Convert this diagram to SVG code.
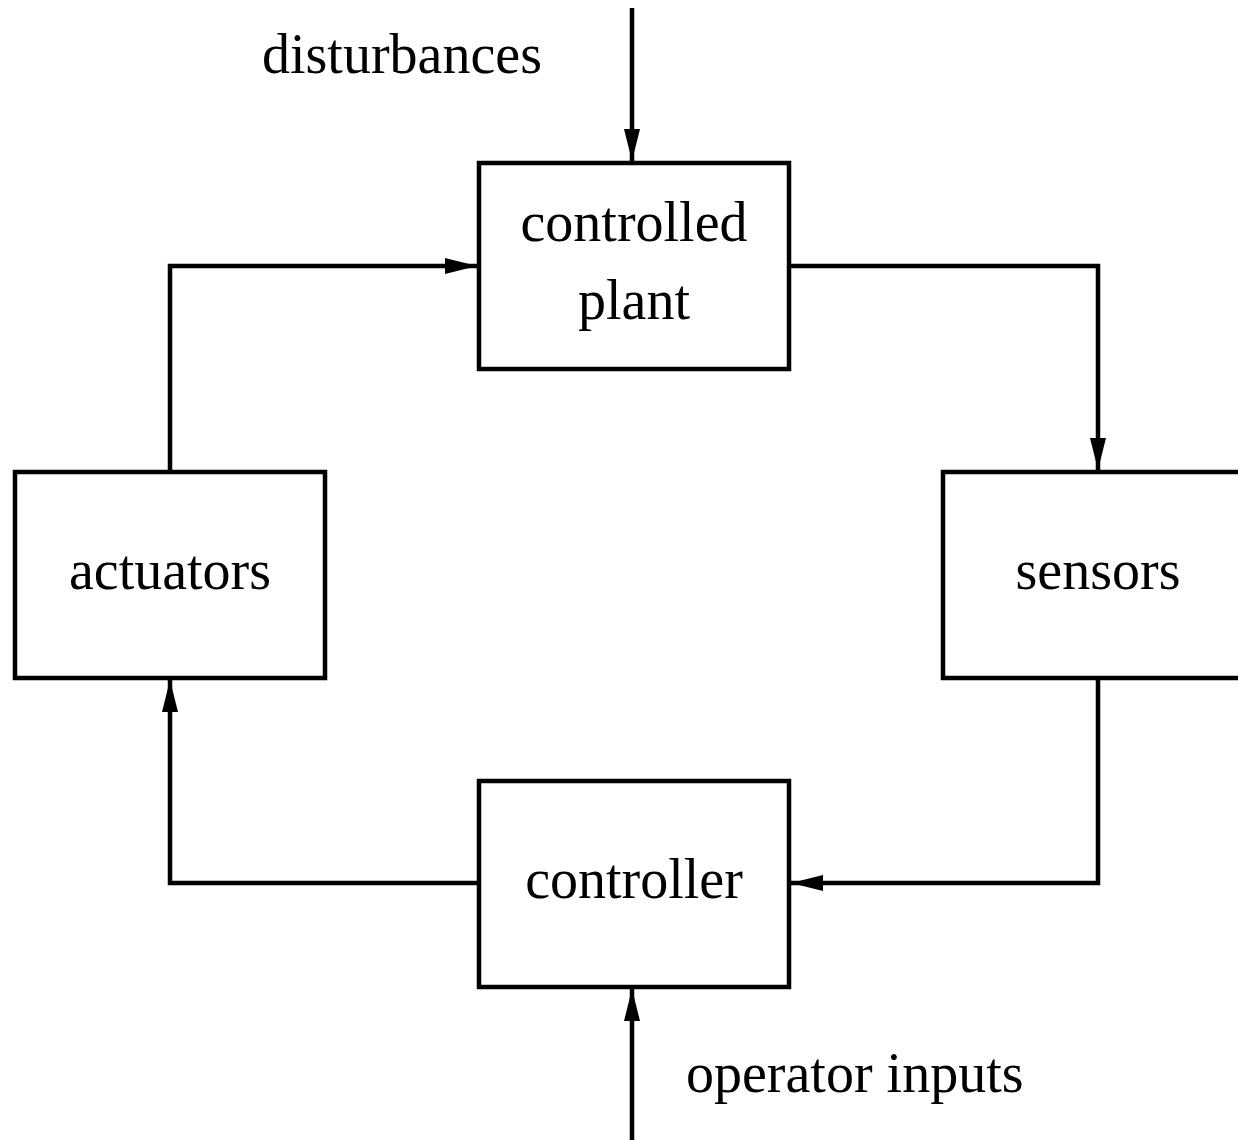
<svg xmlns="http://www.w3.org/2000/svg" width="1238" height="1140" viewBox="0 0 1238 1140">
  <style>
    .box { fill: #ffffff; stroke: #000000; stroke-width: 4.5; }
    .wire { fill: none; stroke: #000000; stroke-width: 4.5; }
    .lbl { font-family: "Liberation Serif", "Times New Roman", serif; font-size: 56px; fill: #000000; }
    .mid { text-anchor: middle; }
  </style>
  <defs>
    <marker id="arrow" viewBox="0 0 32 16" refX="32" refY="8" markerWidth="32" markerHeight="16" markerUnits="userSpaceOnUse" orient="auto">
      <path d="M0,0 L32,8 L0,16 Z" fill="#000000"/>
    </marker>
  </defs>
  <rect width="1238" height="1140" fill="#ffffff"/>

  <g id="connectors">
    <path class="wire" d="M632,8 V161" marker-end="url(#arrow)"/>
    <path class="wire" d="M789,266 H1098 V470" marker-end="url(#arrow)"/>
    <path class="wire" d="M1098,678 V883 H791" marker-end="url(#arrow)"/>
    <path class="wire" d="M479,883 H170 V680" marker-end="url(#arrow)"/>
    <path class="wire" d="M170,472 V266 H477" marker-end="url(#arrow)"/>
    <path class="wire" d="M632,1140 V989" marker-end="url(#arrow)"/>
  </g>

  <g id="plant">
    <rect class="box" x="479" y="163" width="310" height="206"/>
    <text class="lbl mid" x="634" y="241">controlled</text>
    <text class="lbl mid" x="634" y="319">plant</text>
  </g>
  <g id="actuators">
    <rect class="box" x="15" y="472" width="310" height="206"/>
    <text class="lbl mid" x="170" y="589">actuators</text>
  </g>
  <g id="sensors">
    <rect class="box" x="943" y="472" width="310" height="206"/>
    <text class="lbl mid" x="1098" y="589">sensors</text>
  </g>
  <g id="controller">
    <rect class="box" x="479" y="781" width="310" height="206"/>
    <text class="lbl mid" x="634" y="898">controller</text>
  </g>

  <g id="inputs">
    <text class="lbl" x="262" y="73">disturbances</text>
    <text class="lbl" x="686" y="1092">operator inputs</text>
  </g>
</svg>
